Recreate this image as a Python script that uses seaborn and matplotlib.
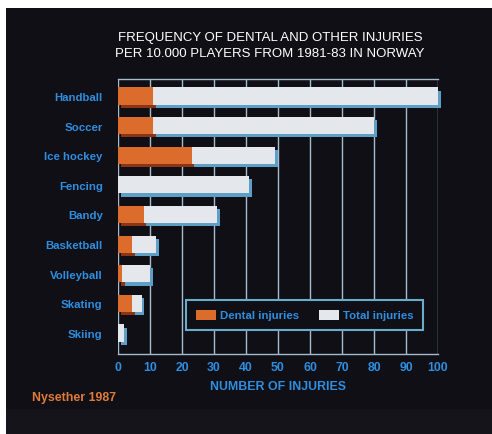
import matplotlib
matplotlib.use("Agg")
import matplotlib.pyplot as plt
import matplotlib.transforms as mtransforms
from matplotlib.patches import Rectangle, Patch
import seaborn as sns
import pandas as pd

sports = ["Handball", "Soccer", "Ice hockey", "Fencing", "Bandy",
          "Basketball", "Volleyball", "Skating", "Skiing"]
dental = [11, 11, 23, 0, 8, 4.4, 1.3, 4.3, 0]
total = [100, 80, 49, 41, 31, 12, 10, 7.4, 1.8]
xticks = [0, 10, 20, 30, 40, 50, 60, 70, 80, 90, 100]

df = pd.DataFrame({"sport": sports, "dental": dental, "total": total})

sns.set_theme(style="dark")
plt.rcParams["font.family"] = ["Liberation Sans", "DejaVu Sans"]

BG = "#0f0f15"
BLUE = "#2f8ee0"
ORANGE = "#dc6c2c"
ORANGE_SH = "#8a3418"
WHITE = "#e4e8ec"
WHITE_SH = "#5d9fc6"
GRID = "#a4bccb"

W, H = 492, 435
fig = plt.figure(figsize=(W / 100, H / 100), dpi=100, facecolor=BG)

# frame strips
fig.patches.append(Rectangle((0, 1 - 9 / H), 1, 9 / H, transform=fig.transFigure,
                             facecolor="white", edgecolor="none", zorder=0))
fig.patches.append(Rectangle((0, 0), 6 / W, 1, transform=fig.transFigure,
                             facecolor="white", edgecolor="none", zorder=0))
fig.patches.append(Rectangle((6 / W, 0), 1, 25 / H, transform=fig.transFigure,
                             facecolor="#15141b", edgecolor="none", zorder=0))

ax = fig.add_axes([118 / W, 1 - 355 / H, 320 / W, 275 / H])
ax.set_facecolor(BG)

bh = 0.58
off = mtransforms.ScaledTranslation(2.0 / 72, -2.3 / 72, fig.dpi_scale_trans)

def shifted(before):
    for p in ax.patches[before:]:
        p.set_transform(ax.transData + off)

common = dict(data=df, y="sport", order=sports, width=bh, saturation=1, ax=ax,
              linewidth=0, edgecolor="none")
n0 = len(ax.patches)
sns.barplot(x="total", color=WHITE_SH, zorder=2, **common)
shifted(n0)
n0 = len(ax.patches)
sns.barplot(x="dental", color=ORANGE_SH, zorder=2, **common)
shifted(n0)
sns.barplot(x="total", color=WHITE, zorder=3, **common)
sns.barplot(x="dental", color=ORANGE, zorder=4, **common)
for p in ax.patches:
    p.set_clip_on(False)

ax.set_xlim(0, 100)
ax.set_ylim(8.71, -0.574)
ax.set_xticks(xticks)
ax.set_xticklabels([str(t) for t in xticks])
ax.grid(axis="x", color=GRID, lw=1.0, zorder=1)
ax.grid(axis="y", visible=False)
ax.set_axisbelow(True)
for s in ["left", "right"]:
    ax.spines[s].set_visible(False)
for s in ["top", "bottom"]:
    ax.spines[s].set_visible(True)
    ax.spines[s].set_color(GRID)
    ax.spines[s].set_linewidth(1.0)

ax.tick_params(axis="x", length=0, pad=5, labelcolor=BLUE, labelsize=8.8)
ax.tick_params(axis="y", length=0, pad=11, labelcolor=BLUE, labelsize=8.2)
for lbl in ax.get_xticklabels() + ax.get_yticklabels():
    lbl.set_fontweight("bold")

ax.set_xlabel("NUMBER OF INJURIES", color=BLUE, fontsize=8.9, fontweight="bold", labelpad=5)
ax.set_ylabel("")

fig.text(270 / W, 1 - 46 / H,
         "FREQUENCY OF DENTAL AND OTHER INJURIES\nPER 10.000 PLAYERS FROM 1981-83 IN NORWAY",
         ha="center", va="center", color="white", fontsize=9.5, linespacing=1.35)

fig.text(32 / W, 1 - 398 / H, "Nysether 1987", ha="left", va="center",
         color="#e07a3a", fontsize=8.9, fontweight="bold")

handles = [Patch(facecolor=ORANGE, edgecolor="none", label="Dental injuries"),
           Patch(facecolor=WHITE, edgecolor="none", label="Total injuries")]
leg = ax.legend(handles=handles, ncol=2, loc="center",
                bbox_to_anchor=(304.5 / W, 1 - 316 / H), bbox_transform=fig.transFigure,
                frameon=True, fancybox=False, facecolor=BG, framealpha=1,
                edgecolor="#6aaccc", fontsize=8.2, handlelength=1.75, handleheight=1.0,
                handletextpad=0.35, columnspacing=1.75, borderpad=0.85)
leg.get_frame().set_linewidth(1.5)
leg.set_zorder(6)
for t in leg.get_texts():
    t.set_color(BLUE)
    t.set_fontweight("bold")

fig.savefig("out.png", dpi=100, facecolor=BG)
